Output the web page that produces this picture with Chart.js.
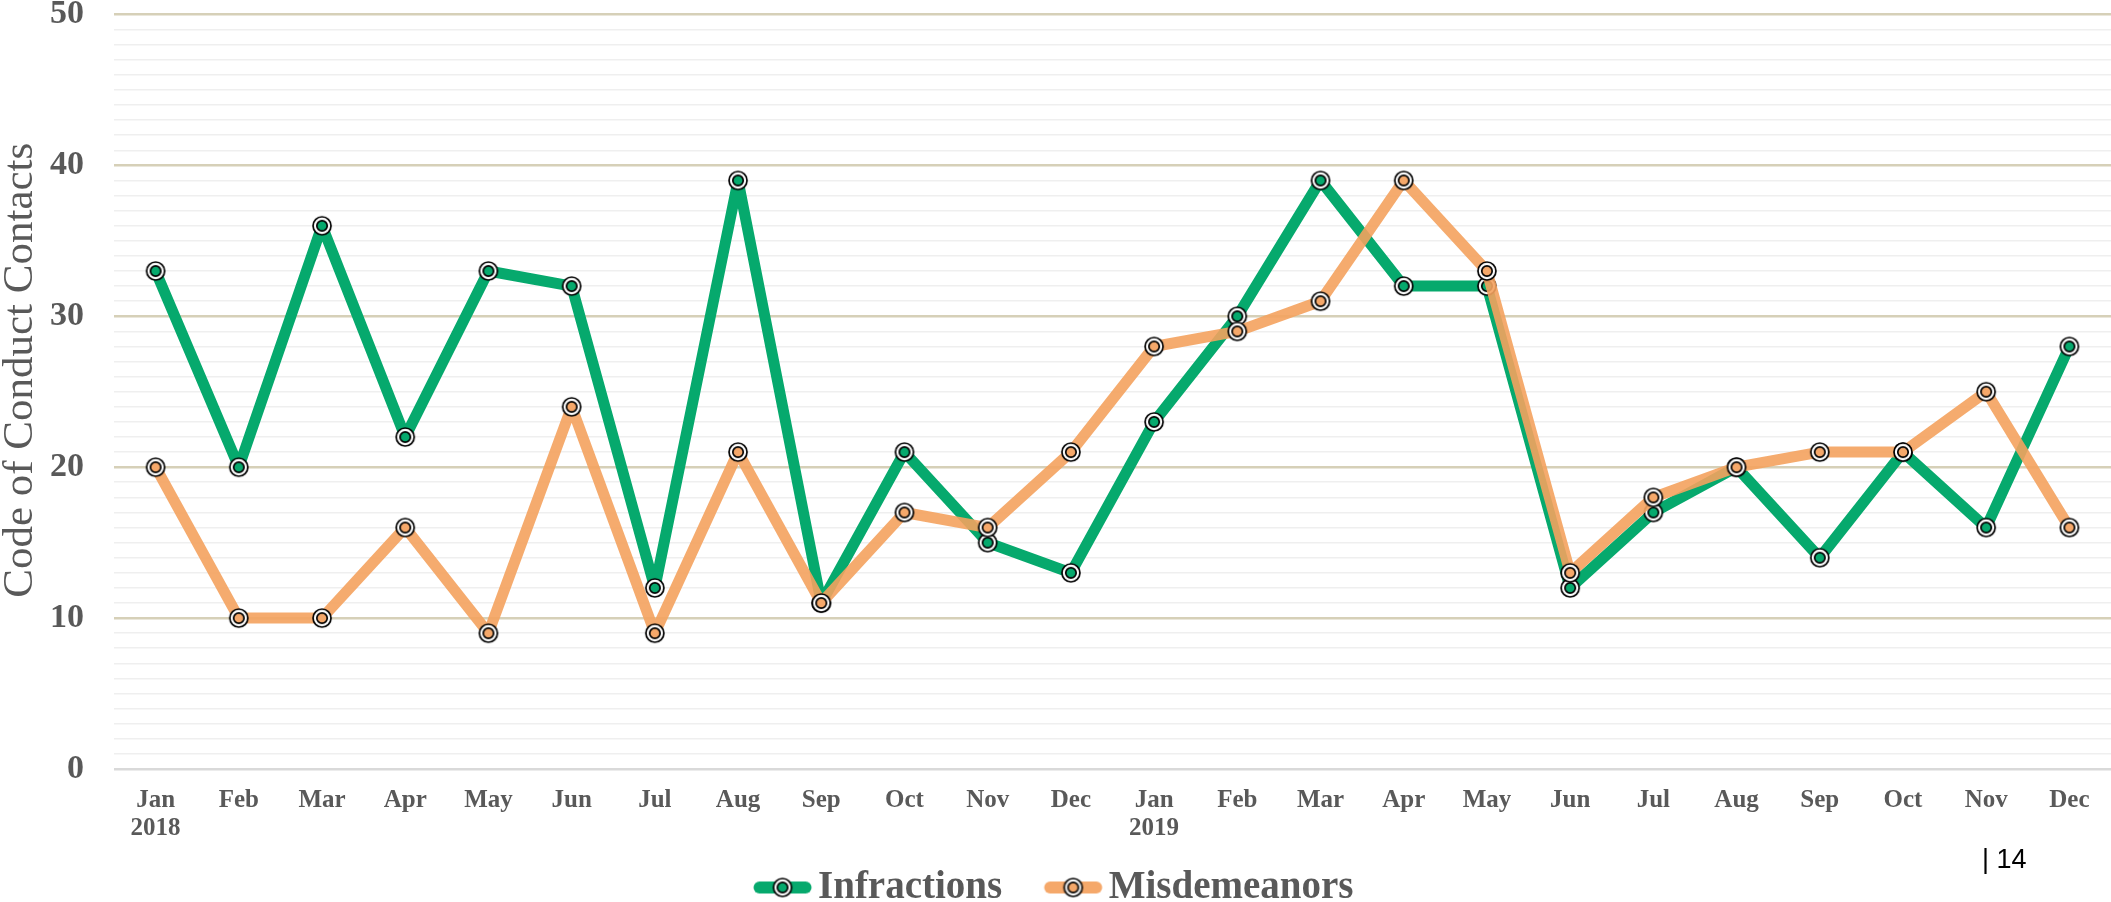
<!DOCTYPE html>
<html>
<head>
<meta charset="utf-8">
<script src="https://cdn.jsdelivr.net/npm/chart.js@4/dist/chart.umd.min.js"></script>
<style>
  html, body { margin: 0; padding: 0; background: #fff; }
  #wrap { position: relative; width: 2111px; height: 902px; }
  #page { position: absolute; left: 1982px; top: 844px; font-family: "Liberation Sans", sans-serif; font-size: 27px; color: #000; }
</style>
</head>
<body>
<div id="wrap">
  <canvas id="c" width="2111" height="902"></canvas>
  <div id="page">| 14</div>
</div>
<script>
const categories = [
  ['Jan', '2018'], 'Feb', 'Mar', 'Apr', 'May', 'Jun', 'Jul', 'Aug', 'Sep', 'Oct', 'Nov', 'Dec',
  ['Jan', '2019'], 'Feb', 'Mar', 'Apr', 'May', 'Jun', 'Jul', 'Aug', 'Sep', 'Oct', 'Nov', 'Dec'
];
const infractions = [33, 20, 36, 22, 33, 32, 12, 39, 11, 21, 15, 13, 23, 30, 39, 32, 32, 12, 17, 20, 14, 21, 16, 28];
const misdemeanors = [20, 10, 10, 16, 9, 24, 9, 21, 11, 17, 16, 21, 28, 29, 31, 39, 33, 13, 18, 20, 21, 21, 25, 16];
const seriesNames = ['Infractions', 'Misdemeanors'];
const yTickLabels = [0, 10, 20, 30, 40, 50];
const yTitle = 'Code of Conduct Contacts';

const GREEN = '#06a96d';
const ORANGE = 'rgba(244,162,94,0.9)';
const ORANGE_SOLID = '#f5a86a';
const TEXT = '#595959';

function makeMarker(color) {
  const c = document.createElement('canvas');
  c.width = 22; c.height = 22;
  const x = c.getContext('2d');
  x.lineWidth = 1.7; x.strokeStyle = '#000';
  x.fillStyle = '#fff';
  x.beginPath(); x.arc(11, 11, 9, 0, 2 * Math.PI); x.fill(); x.stroke();
  x.fillStyle = color;
  x.beginPath(); x.arc(11, 11, 5.2, 0, 2 * Math.PI); x.fill(); x.stroke();
  return c;
}
function makeLegendIcon(color) {
  const W = 120, H = 24, c0 = 58.5, len = 58;
  const c = document.createElement('canvas');
  c.width = W; c.height = H;
  const x = c.getContext('2d');
  x.strokeStyle = color; x.lineWidth = 12; x.lineCap = 'round';
  x.beginPath(); x.moveTo(c0 + 6, H / 2); x.lineTo(c0 + len - 6, H / 2); x.stroke();
  x.drawImage(makeMarker(color), c0 + len / 2 - 11, H / 2 - 11);
  return c;
}
const markerG = makeMarker(GREEN), markerO = makeMarker(ORANGE_SOLID);
const legendIcons = [makeLegendIcon(GREEN), makeLegendIcon(ORANGE_SOLID)];

const LEGEND_SHIFT_X = 23;
const LEGEND_SHIFT_Y = 15;
const legendShift = {
  id: 'legendShift',
  afterLayout(chart) {
    const l = chart.legend;
    if (l) {
      l.left -= LEGEND_SHIFT_X; l.right -= LEGEND_SHIFT_X;
      l.top += LEGEND_SHIFT_Y; l.bottom += LEGEND_SHIFT_Y;
    }
  }
};

new Chart(document.getElementById('c'), {
  type: 'line',
  data: {
    labels: categories,
    datasets: [
      { label: seriesNames[0], data: infractions, borderColor: GREEN, backgroundColor: GREEN,
        borderWidth: 11, borderJoinStyle: 'round', pointStyle: markerG, pointRadius: 9, order: 1, tension: 0 },
      { label: seriesNames[1], data: misdemeanors, borderColor: ORANGE, backgroundColor: ORANGE,
        borderWidth: 11, borderJoinStyle: 'round', pointStyle: markerO, pointRadius: 9, order: 0, tension: 0 }
    ]
  },
  options: {
    responsive: false,
    animation: false,
    devicePixelRatio: 1,
    layout: { autoPadding: false, padding: { top: 0, right: 0, bottom: 0, left: 0 } },
    plugins: {
      tooltip: { enabled: false },
      legend: {
        position: 'bottom',
        reverse: true,
        labels: {
          usePointStyle: true,
          pointStyleWidth: 87,
          padding: 0,
          color: TEXT,
          font: { family: '"Liberation Serif", serif', size: 39, weight: 'bold', lineHeight: 1.0 },
          generateLabels(chart) {
            const items = Chart.defaults.plugins.legend.labels.generateLabels(chart);
            items.forEach(it => { it.pointStyle = legendIcons[it.datasetIndex]; });
            return items;
          }
        }
      }
    },
    scales: {
      x: {
        offset: true,
        afterFit(scale) { scale.height = 84; },
        grid: { display: false, drawTicks: false },
        border: { display: false },
        ticks: {
          color: TEXT, padding: 18, maxRotation: 0, autoSkip: false,
          font: { family: '"Liberation Serif", serif', size: 25, weight: 'bold', lineHeight: 1.1 }
        }
      },
      y: {
        min: 0, max: 50,
        afterFit(scale) { scale.width = 114; scale.paddingTop = 14.5; scale.paddingBottom = 0; },
        title: {
          display: true, text: '\u2002\u2002' + yTitle, color: TEXT,
          padding: 0,
          font: { family: '"Liberation Serif", serif', size: 43, weight: 'normal', lineHeight: 0.95 }
        },
        border: { display: false },
        grid: {
          drawTicks: false,
          color(ctx) {
            const v = ctx.tick && ctx.tick.value;
            if (v === 0) return '#d9d9d9';
            return v % 10 === 0 ? '#d6d0b8' : '#efefef';
          },
          lineWidth(ctx) {
            const v = ctx.tick && ctx.tick.value;
            return v % 10 === 0 ? 2.5 : 1.6;
          }
        },
        ticks: {
          stepSize: 1, autoSkip: false, padding: 30, color: TEXT,
          font: { family: '"Liberation Serif", serif', size: 34, weight: 'bold', lineHeight: 0.9 },
          callback(v) { return yTickLabels.includes(v) ? String(v) : ''; }
        }
      }
    }
  },
  plugins: [legendShift]
});
</script>
</body>
</html>
